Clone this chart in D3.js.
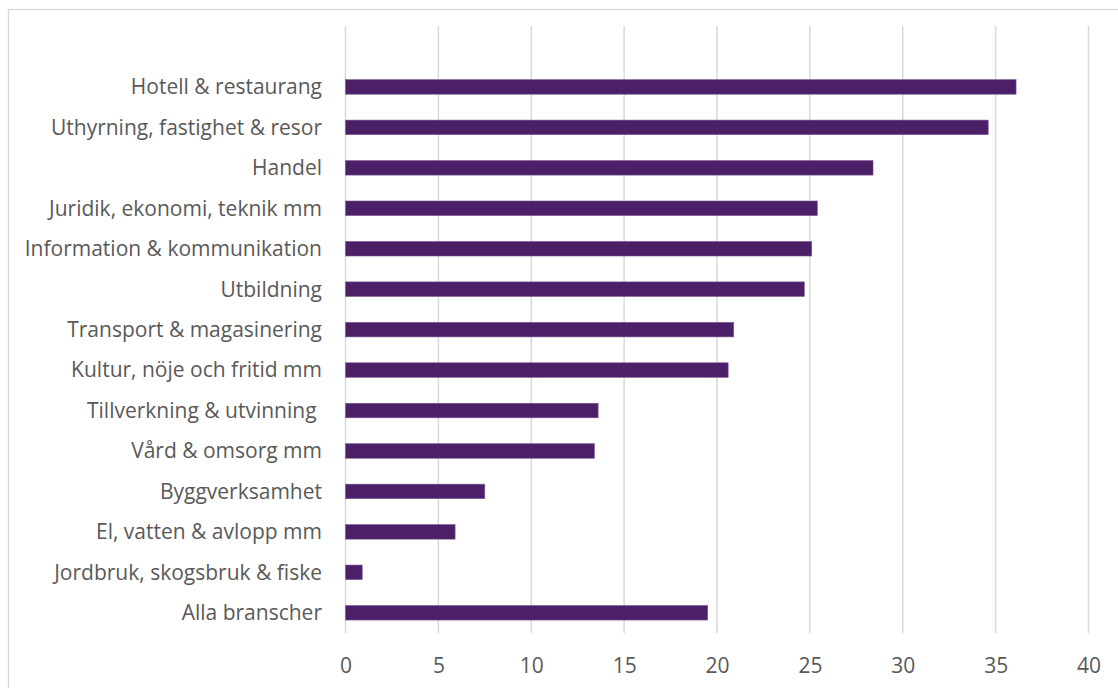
<!DOCTYPE html>
<html>
<head>
<meta charset="utf-8">
<script src="https://cdn.jsdelivr.net/npm/d3@7"></script>
<style>
  html, body { margin: 0; padding: 0; background: #fff; }
  svg { display: block; }
</style>
</head>
<body>
<svg id="chart" width="1118" height="688"></svg>
<script>
// Industries, top to bottom
const categories = [
  "Hotell & restaurang",
  "Uthyrning, fastighet & resor",
  "Handel",
  "Juridik, ekonomi, teknik mm",
  "Information & kommunikation",
  "Utbildning",
  "Transport & magasinering",
  "Kultur, nöje och fritid mm",
  "Tillverkning & utvinning ",
  "Vård & omsorg mm",
  "Byggverksamhet",
  "El, vatten & avlopp mm",
  "Jordbruk, skogsbruk & fiske",
  "Alla branscher"
];
const values = [36.1, 34.6, 28.4, 25.4, 25.1, 24.7, 20.9, 20.6, 13.6, 13.4, 7.5, 5.9, 0.9, 19.5];
const tickValues = [0, 5, 10, 15, 20, 25, 30, 35, 40];

const svg = d3.select("#chart");
const font = "'Open Sans', sans-serif";
const textColor = "#595959";

// chart frame
svg.append("rect")
  .attr("x", 8.5).attr("y", 9.5)
  .attr("width", 1118).attr("height", 700)
  .attr("fill", "none").attr("stroke", "#d9d9d9").attr("stroke-width", 1.3);

const plotTop = 26, plotBottom = 633;
const x = d3.scaleLinear().domain([0, 40]).range([345.5, 1088.5]);
const y = d3.scaleBand().domain(categories).range([66.7, 633]).paddingInner(0.64).paddingOuter(0.32);

// vertical gridlines
svg.append("g").selectAll("line")
  .data(tickValues)
  .join("line")
  .attr("x1", d => x(d)).attr("x2", d => x(d))
  .attr("y1", plotTop).attr("y2", plotBottom)
  .attr("stroke", "#d9d9d9").attr("stroke-width", 1.5);

// x axis labels
const xAxis = d3.axisBottom(x).tickValues(tickValues).tickSize(0).tickPadding(0);
const gx = svg.append("g").attr("transform", `translate(0,${plotBottom})`).call(xAxis);
gx.select(".domain").remove();
gx.selectAll("text")
  .attr("dy", null).attr("y", 40)
  .attr("fill", textColor)
  .style("font-family", font).style("font-size", "21px");

// category labels
const yAxis = d3.axisLeft(y).tickSize(0).tickPadding(0);
const gy = svg.append("g").attr("transform", "translate(322,0)").call(yAxis);
gy.select(".domain").remove();
gy.selectAll("text")
  .attr("dy", "0.35em")
  .attr("fill", textColor)
  .style("font-family", font).style("font-size", "21px")
  .style("white-space", "pre");

// bars
svg.append("g").selectAll("rect")
  .data(categories.map((c, i) => ({ c, v: values[i] })))
  .join("rect")
  .attr("x", x(0))
  .attr("y", d => y(d.c))
  .attr("width", d => x(d.v) - x(0))
  .attr("height", y.bandwidth())
  .attr("fill", "#4b2068")
  .attr("stroke", "#7a5a94").attr("stroke-width", 0.6);
</script>
</body>
</html>
